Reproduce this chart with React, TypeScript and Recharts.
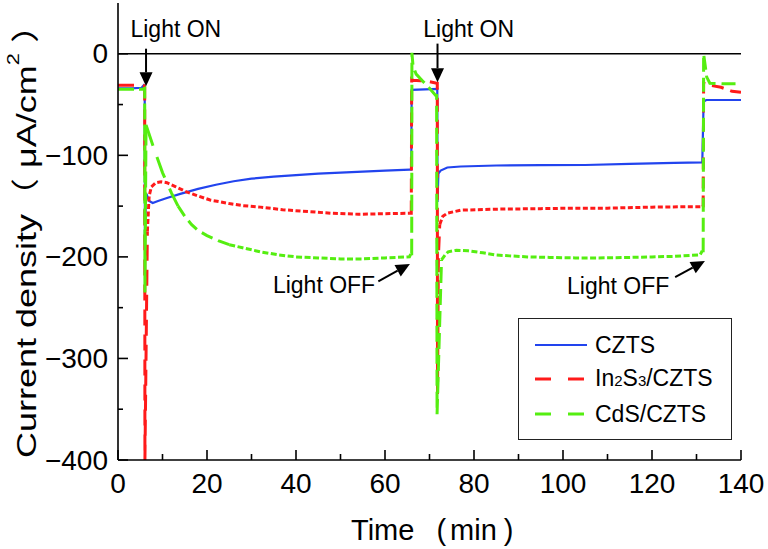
import React from 'react';
import { LineChart, Line, XAxis, YAxis, ReferenceLine, ReferenceDot, Legend } from 'recharts';

// time (min), current density (µA/cm²)
const cztsData: [number, number][] = [
  [0, -34], [3, -34], [5.3, -33.5], [5.8, -31], [6.0, -32], [6.05, -185], [6.2, -150], [6.4, -138],
  [7, -145], [7.8, -147], [9, -145], [11, -142], [14, -138], [18, -133], [22, -129], [26, -125.5],
  [30, -123], [35, -121], [40, -119.5], [45, -118], [50, -117], [55, -116], [60, -115], [65.6, -114],
  [65.9, -114], [66.0, -35.5], [69, -35], [71.75, -34.5], [71.8, -146], [72.0, -118], [72.5, -115],
  [74, -112], [77, -111], [85, -110], [95, -109.7], [105, -109.5], [115, -108.5], [125, -107.5],
  [131.3, -107], [131.6, -47], [132.2, -45.5], [140, -45.5],
];

const in2s3Dark1: [number, number][] = [
  [0, -31], [5.5, -31], [5.9, -31.5], [6.0, -33], [6.05, -400], [6.6, -175],
];
const in2s3Light1: [number, number][] = [
  [6.6, -175], [7.0, -140], [7.5, -131], [8.5, -127], [9.7, -126], [11, -127], [13, -131],
  [15.4, -136], [18, -140], [20.7, -144], [25, -147.5], [28, -149.5], [32, -151], [37, -153.5],
  [43, -155.5], [48, -157], [54, -158], [60, -157.5], [65.6, -157],
];
const in2s3Dark2: [number, number][] = [
  [65.6, -157], [65.9, -157], [66.0, -25], [66.3, -26], [68, -26.5], [70, -27.5], [71.6, -29],
  [71.75, -29], [71.8, -335], [72.0, -200], [72.3, -168],
];
const in2s3Light2: [number, number][] = [
  [72.3, -168], [73, -160], [74, -157], [77, -154], [85, -153], [95, -152.5], [103, -152],
  [110, -152], [120, -151], [131.2, -150.5],
];
const in2s3Dark3: [number, number][] = [
  [131.2, -150.5], [131.5, -150], [131.6, -29], [133, -31], [135.5, -33], [138, -37], [140, -38],
];

const cdsDark1: [number, number][] = [
  [0, -35], [5.5, -35], [6.0, -34], [6.05, -235], [6.3, -70],
];
const cdsLight1a: [number, number][] = [
  [6.3, -70], [8.2, -95], [10, -117], [12, -137], [13.5, -150],
];
const cdsLight1b: [number, number][] = [
  [13.5, -150], [15, -160], [16.5, -168], [18, -174], [20, -179], [22.5, -184], [25, -188],
];
const cdsLight1c: [number, number][] = [
  [25, -188], [28, -191], [32, -195], [36, -198], [40, -200], [45, -201], [50, -202], [55, -202],
  [60, -201], [65.5, -200], [65.8, -197],
];
const cdsDark2: [number, number][] = [
  [65.8, -197], [66.0, -197], [66.05, 1], [66.3, -12], [67, -20], [68.5, -27], [70, -34],
  [71.4, -41], [71.6, -41], [71.7, -355], [72.7, -203],
];
const cdsLight2: [number, number][] = [
  [72.7, -203], [73.5, -198], [74.2, -195], [76, -193.5], [78.7, -194], [82, -196], [84.7, -198],
  [88, -199], [92, -200], [97, -200.5], [102.7, -201], [108, -201], [115, -200.5], [120, -200],
  [125, -199.5], [130.8, -198], [131.3, -194],
];
const cdsDark3: [number, number][] = [
  [131.3, -194], [131.5, -194], [131.6, 0], [132.3, -23], [133, -29], [136, -29.5], [140, -29.5],
];

const xTicks = [0, 10, 20, 30, 40, 50, 60, 70, 80, 90, 100, 110, 120, 130, 140];
const yTicks = [-400, -350, -300, -250, -200, -150, -100, -50, 0];

const legendItems = [
  { key: 'czts', color: '#2244ee', dash: undefined as string | undefined },
  { key: 'in2s3', color: '#ff1a1a', dash: '16 17' },
  { key: 'cds', color: '#55ee11', dash: '16 17' },
];

const BLUE = '#2244ee';
const RED = '#ff1a1a';
const GREEN = '#55ee11';
const FONT = "'Liberation Sans', Arial, 'Noto Sans CJK SC', sans-serif";

const toPts = (a: [number, number][]) => a.map(([t, v]) => ({ t, v }));

const XTick = (p: any) => {
  const { x, y, payload } = p;
  const v = payload.value as number;
  const major = v % 20 === 0;
  return (
    <g>
      <line x1={x} y1={y} x2={x} y2={y - (major ? 10 : 6)} stroke="#000" strokeWidth={1.6} />
      {major && (
        <text x={x} y={y + 33} textAnchor="middle" fontSize={28} fontFamily={FONT} fill="#000">
          {v}
        </text>
      )}
    </g>
  );
};

const YTick = (p: any) => {
  const { x, y, payload } = p;
  const v = payload.value as number;
  const major = v % 100 === 0;
  const label = v < 0 ? `\u2212${Math.abs(v)}` : `${v}`;
  return (
    <g>
      <line x1={x} y1={y} x2={x + (major ? 10 : 5)} y2={y} stroke="#000" strokeWidth={1.6} />
      {major && (
        <text x={x - 10} y={y + 9.5} textAnchor="end" fontSize={28} fontFamily={FONT} fill="#000">
          {label}
        </text>
      )}
    </g>
  );
};

const YTitle = () => (
  <text
    transform="translate(36,232.5) rotate(-90)"
    textAnchor="middle"
    fontSize={28}
    fontFamily={FONT}
    fill="#000"
    textLength={451}
    lengthAdjust="spacingAndGlyphs"
  >
    Current density（ μA/cm
    <tspan dy={-17} fontSize={17}>2</tspan>
    <tspan dy={17}> ）</tspan>
  </text>
);

const XTitle = () => (
  <text x={351} y={540} textAnchor="start" fontSize={29} fontFamily={FONT} fill="#000">
    Time
    <tspan dx={22}>(</tspan>
    <tspan dx={4}>min</tspan>
    <tspan dx={7}>)</tspan>
  </text>
);

const Arrow = (p: any) => {
  const { x1, y1, x2, y2 } = p;
  const dx = x2 - x1;
  const dy = y2 - y1;
  const L = Math.hypot(dx, dy) || 1;
  const ux = dx / L;
  const uy = dy / L;
  const head = 14;
  const half = 6.5;
  const bx = x2 - ux * head;
  const by = y2 - uy * head;
  const px = -uy;
  const py = ux;
  return (
    <g>
      <line x1={x1} y1={y1} x2={bx} y2={by} stroke="#000" strokeWidth={2} />
      <polygon
        points={`${x2},${y2} ${bx + px * half},${by + py * half} ${bx - px * half},${by - py * half}`}
        fill="#000"
      />
    </g>
  );
};

const annoText = (label: string) => (p: any) => (
  <text x={p.cx} y={p.cy} textAnchor="middle" fontSize={23} fontFamily={FONT} fill="#000">
    {label}
  </text>
);

const LegendBox = () => (
  <div
    style={{
      width: 214,
      height: 122,
      border: '1.3px solid #222',
      background: '#fff',
      boxSizing: 'border-box',
      fontFamily: FONT,
      fontSize: 23,
      color: '#000',
      position: 'relative',
    }}
  >
    {legendItems.map((it, i) => (
      <div key={it.key} style={{ position: 'absolute', left: 14, top: 10 + i * 34.3, height: 32, display: 'flex', alignItems: 'center' }}>
        <svg width={56} height={10} style={{ display: 'block' }}>
          <line x1={2} y1={5} x2={54} y2={5} stroke={it.color} strokeWidth={it.dash ? 3 : 2.2} strokeDasharray={it.dash} />
        </svg>
        <span style={{ marginLeft: 6, lineHeight: '32px', whiteSpace: 'nowrap' }}>
          {it.key === 'czts' && 'CZTS'}
          {it.key === 'in2s3' && (
            <>
              In<span style={{ fontSize: 15 }}>2</span>S<span style={{ fontSize: 15 }}>3</span>/CZTS
            </>
          )}
          {it.key === 'cds' && 'CdS/CZTS'}
        </span>
      </div>
    ))}
  </div>
);

export default function App() {
  const seg = (key: string, d: [number, number][], color: string, width: number, dash?: string) => (
    <Line
      key={key}
      data={toPts(d)}
      dataKey="v"
      type="linear"
      stroke={color}
      strokeWidth={width}
      strokeDasharray={dash}
      dot={false}
      activeDot={false}
      isAnimationActive={false}
      legendType="none"
    />
  );
  return (
    <div style={{ position: 'absolute', left: 0, top: 0, width: 768, height: 549, background: '#fff' }}>
      <LineChart width={768} height={549} margin={{ top: 3, right: 27, bottom: 0, left: 0 }}>
        <XAxis
          dataKey="t"
          type="number"
          domain={[0, 140]}
          ticks={xTicks}
          interval={0}
          height={89}
          tickSize={0}
          tickMargin={0}
          tickLine={false}
          tick={<XTick />}
          axisLine={{ stroke: '#000', strokeWidth: 1.6 }}
          allowDataOverflow
          label={<XTitle />}
        />
        <XAxis
          xAxisId="top"
          orientation="top"
          type="number"
          domain={[0, 140]}
          height={0}
          tick={false}
          tickLine={false}
          axisLine={{ stroke: '#000', strokeWidth: 1.6 }}
        />
        <YAxis
          type="number"
          domain={[-400, 50]}
          ticks={yTicks}
          interval={0}
          width={118}
          tickSize={0}
          tickMargin={0}
          tickLine={false}
          tick={<YTick />}
          axisLine={{ stroke: '#000', strokeWidth: 1.6 }}
          allowDataOverflow
          label={<YTitle />}
        />
        <YAxis
          yAxisId="right"
          orientation="right"
          type="number"
          domain={[-400, 50]}
          width={0}
          tick={false}
          tickLine={false}
          axisLine={{ stroke: '#000', strokeWidth: 1.6 }}
        />
        <ReferenceLine y={0} stroke="#000" strokeWidth={1.6} />
        {seg('czts', cztsData, BLUE, 2.2)}
        {seg('r1', in2s3Dark1, RED, 3, '16 9')}
        {seg('r2', in2s3Light1, RED, 3, '5 2.5')}
        {seg('r3', in2s3Dark2, RED, 3, '14 8')}
        {seg('r4', in2s3Light2, RED, 3, '5 2.5')}
        {seg('r5', in2s3Dark3, RED, 3, '12 7')}
        {seg('g1', cdsDark1, GREEN, 3, '16 5')}
        {seg('g2', cdsLight1a, GREEN, 3, '22 12')}
        {seg('g3', cdsLight1b, GREEN, 3, '12 6')}
        {seg('g4', cdsLight1c, GREEN, 3, '6 2.5')}
        {seg('g5', cdsDark2, GREEN, 3, '16 6')}
        {seg('g6', cdsLight2, GREEN, 3, '6 2.5')}
        {seg('g7', cdsDark3, GREEN, 3, '14 6')}
        <ReferenceLine segment={[{ x: 6.3, y: 5 }, { x: 6.3, y: -32 }]} shape={<Arrow />} ifOverflow="visible" />
        <ReferenceLine segment={[{ x: 71.8, y: 10 }, { x: 71.8, y: -28 }]} shape={<Arrow />} ifOverflow="visible" />
        <ReferenceLine segment={[{ x: 58.5, y: -224 }, { x: 65.6, y: -207 }]} shape={<Arrow />} ifOverflow="visible" />
        <ReferenceLine segment={[{ x: 125.2, y: -220 }, { x: 131.9, y: -204 }]} shape={<Arrow />} ifOverflow="visible" />
        <ReferenceDot x={13} y={16.3} r={0} shape={annoText('Light ON')} ifOverflow="visible" />
        <ReferenceDot x={78.8} y={16.3} r={0} shape={annoText('Light ON')} ifOverflow="visible" />
        <ReferenceDot x={46.3} y={-235.8} r={0} shape={annoText('Light OFF')} ifOverflow="visible" />
        <ReferenceDot x={112.4} y={-236.7} r={0} shape={annoText('Light OFF')} ifOverflow="visible" />
        <Legend
          layout="vertical"
          align="center"
          verticalAlign="middle"
          content={<LegendBox />}
          wrapperStyle={{ left: 518, top: 318, width: 214, height: 122 }}
        />
      </LineChart>
    </div>
  );
}
